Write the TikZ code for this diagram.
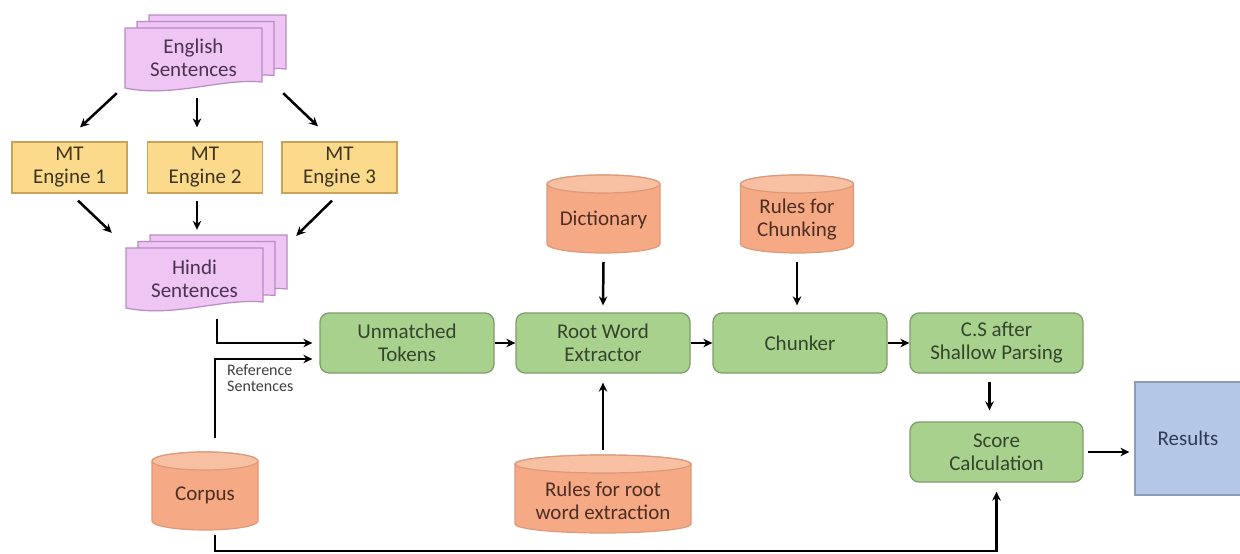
\documentclass[tikz,border=0pt]{standalone}
\usepackage{fontspec}
\setmainfont{Carlito}
\usetikzlibrary{arrows.meta}
\definecolor{docfill}{HTML}{EFC6F3}
\definecolor{docline}{HTML}{B98BC2}
\definecolor{doctext}{HTML}{4A3350}
\definecolor{mtfill}{HTML}{FBDA8B}
\definecolor{mtline}{HTML}{C8A35C}
\definecolor{mttext}{HTML}{3E3420}
\definecolor{gfill}{HTML}{A9D18E}
\definecolor{gline}{HTML}{7E9E6C}
\definecolor{gtext}{HTML}{34452C}
\definecolor{cylfill}{HTML}{F5A985}
\definecolor{cyltop}{HTML}{F8C0A2}
\definecolor{cylline}{HTML}{DC9A7A}
\definecolor{cyltext}{HTML}{4D2E22}
\definecolor{resfill}{HTML}{B4C7E7}
\definecolor{resline}{HTML}{8C9DB8}
\definecolor{restext}{HTML}{2F3B55}
\newcommand{\docpage}[2]{%
  \begin{scope}[shift={(#1,#2)}]
    \path[draw=docline, fill=docfill, line width=1.2pt]
      (0,0) -- (137,0) -- (137,54) .. controls (96,50) and (48,70) .. (0,60) -- cycle;
  \end{scope}}
\newcommand{\multidoc}[2]{%
  \docpage{#1+24}{#2-13}\docpage{#1+12}{#2-6.5}\docpage{#1}{#2}}
\newcommand{\drumshape}[4]{% cx, top, w, h
  \begin{scope}[shift={(#1,#2)}]
    \path[draw=cylline, fill=cylfill, line width=1.2pt]
      ({-#3/2},9) -- ({-#3/2},{#4-9})
      arc[start angle=180, end angle=360, x radius={#3/2*1pt}, y radius=9pt]
      -- ({#3/2},9)
      arc[start angle=0, end angle=180, x radius={#3/2*1pt}, y radius=9pt] -- cycle;
    \path[draw=cylline, fill=cyltop, line width=1.2pt]
      (0,9) ellipse[x radius={#3/2*1pt}, y radius=9pt];
  \end{scope}}
\begin{document}
\begin{tikzpicture}[x=1pt, y=-1pt,
  font=\fontsize{21}{23}\selectfont,
  arr/.style={line width=2.5pt, -{Stealth[length=9pt,width=8.5pt]}},
  doctxt/.style={align=center, text=doctext, minimum width=137pt, minimum height=60pt, inner sep=0pt},
  mtbox/.style={draw=mtline, fill=mtfill, line width=1.2pt, text=mttext, align=center,
    minimum width=115pt, minimum height=51pt, inner sep=0pt},
  gbox/.style={draw=gline, fill=gfill, line width=1.3pt, rounded corners=9pt, text=gtext,
    align=center, minimum width=174pt, minimum height=60pt, inner sep=0pt},
  cylbody/.style={minimum height=78pt, inner sep=0pt},
  cyltxt/.style={text=cyltext, align=center, inner sep=0pt},
  resbox/.style={draw=resline, fill=resfill, line width=1.2pt, text=restext,
    minimum width=106pt, minimum height=113pt, inner sep=0pt},
  reftxt/.style={font=\fontsize{16}{16.5}\selectfont, text=black!75, align=left, inner sep=0pt}]
\useasboundingbox[fill=white] (0,0) rectangle (1240,554);

% document stacks
\multidoc{125}{28}
\node[doctxt] (eng) at (193.5,58) {English\\Sentences};
\multidoc{126}{248}
\node[doctxt] (hin) at (194.5,279) {Hindi\\Sentences};

% MT engines
\node[mtbox] (mt1) at (69.5,167.5) {MT\\Engine 1};
\node[mtbox] (mt2) at (205,167.5) {MT\\Engine 2};
\node[mtbox] (mt3) at (339.5,167.5) {MT\\Engine 3};

% process boxes
\node[gbox] (unm) at (407,343) {Unmatched\\Tokens};
\node[gbox] (rwe) at (603,343) {Root Word\\Extractor};
\node[gbox] (chk) at (800,343) {Chunker};
\node[gbox, minimum width=173pt] (cs) at (996.5,343) {C.S after\\Shallow Parsing};
\node[gbox, minimum width=173pt] (score) at (996.5,452) {Score\\Calculation};
\node[resbox] (res) at (1188,438.5) {Results};

% cylinders
\drumshape{603.5}{175}{113}{78}
\node[cylbody, minimum width=113pt] (dict) at (603.5,214) {};
\node[cyltxt] (dictT) at (603.5,220) {Dictionary};
\drumshape{797}{175}{113}{78}
\node[cylbody, minimum width=113pt] (rch) at (797,214) {};
\node[cyltxt] (rchT) at (797,220) {Rules for\\Chunking};
\drumshape{205}{452}{106}{78}
\node[cylbody, minimum width=106pt] (corpus) at (205,491) {};
\node[cyltxt] (corpusT) at (205,495) {Corpus};
\drumshape{603}{455}{176}{78}
\node[cylbody, minimum width=176pt] (rroot) at (603,494) {};
\node[cyltxt] (rrootT) at (603,501) {Rules for root\\word extraction};

% arrows top part
\draw[arr] ([shift={(-8,5)}]eng.south west) -- ([shift={(10.5,-14)}]mt1.north);
\draw[arr] ([shift={(3.5,10)}]eng.south) -- ([shift={(-8,-14)}]mt2.north);
\draw[arr] ([shift={(21,5)}]eng.south east) -- ([shift={(-21.5,-15)}]mt3.north);
\draw[arr] ([shift={(8.5,7)}]mt1.south) -- ([shift={(-14,-16)}]hin.north west);
\draw[arr] ([shift={(-8,7)}]mt2.south) -- ([shift={(2.5,-19)}]hin.north);
\draw[arr] ([shift={(-7.5,7)}]mt3.south) -- ([shift={(33,-13)}]hin.north east);

% main flow
\draw[arr] ([shift={(22.5,10)}]hin.south) |- ([xshift=-7pt]unm.west);
\draw[arr] ([shift={(10,-14)}]corpus.north) |- ([shift={(-7,16)}]unm.west);
\node[reftxt, anchor=west] (reflbl) at (227,378) {Reference\\Sentences};
\draw[arr] (unm) -- (rwe);
\draw[arr] (rwe) -- (chk);
\draw[arr] (chk) -- (cs);
\draw[arr] ([yshift=-9pt]dict.south) -- ([yshift=7pt]rwe.north);
\draw[arr] ([yshift=-9pt]rch.south) -- ([yshift=7pt]rch.south |- chk.north);
\draw[arr] ([yshift=5pt]rroot.north) -- ([yshift=-9pt]rwe.south);
\draw[arr] ([shift={(-7,8)}]cs.south) -- ([shift={(-7,-11)}]score.north);
\draw[arr] ([xshift=4pt]score.east) -- ([xshift=-5pt]res.west |- score.east);
\draw[arr] ([shift={(10,5)}]corpus.south) -- ++(0,16) -| ([shift={(0,9)}]score.south);
\end{tikzpicture}
\end{document}
